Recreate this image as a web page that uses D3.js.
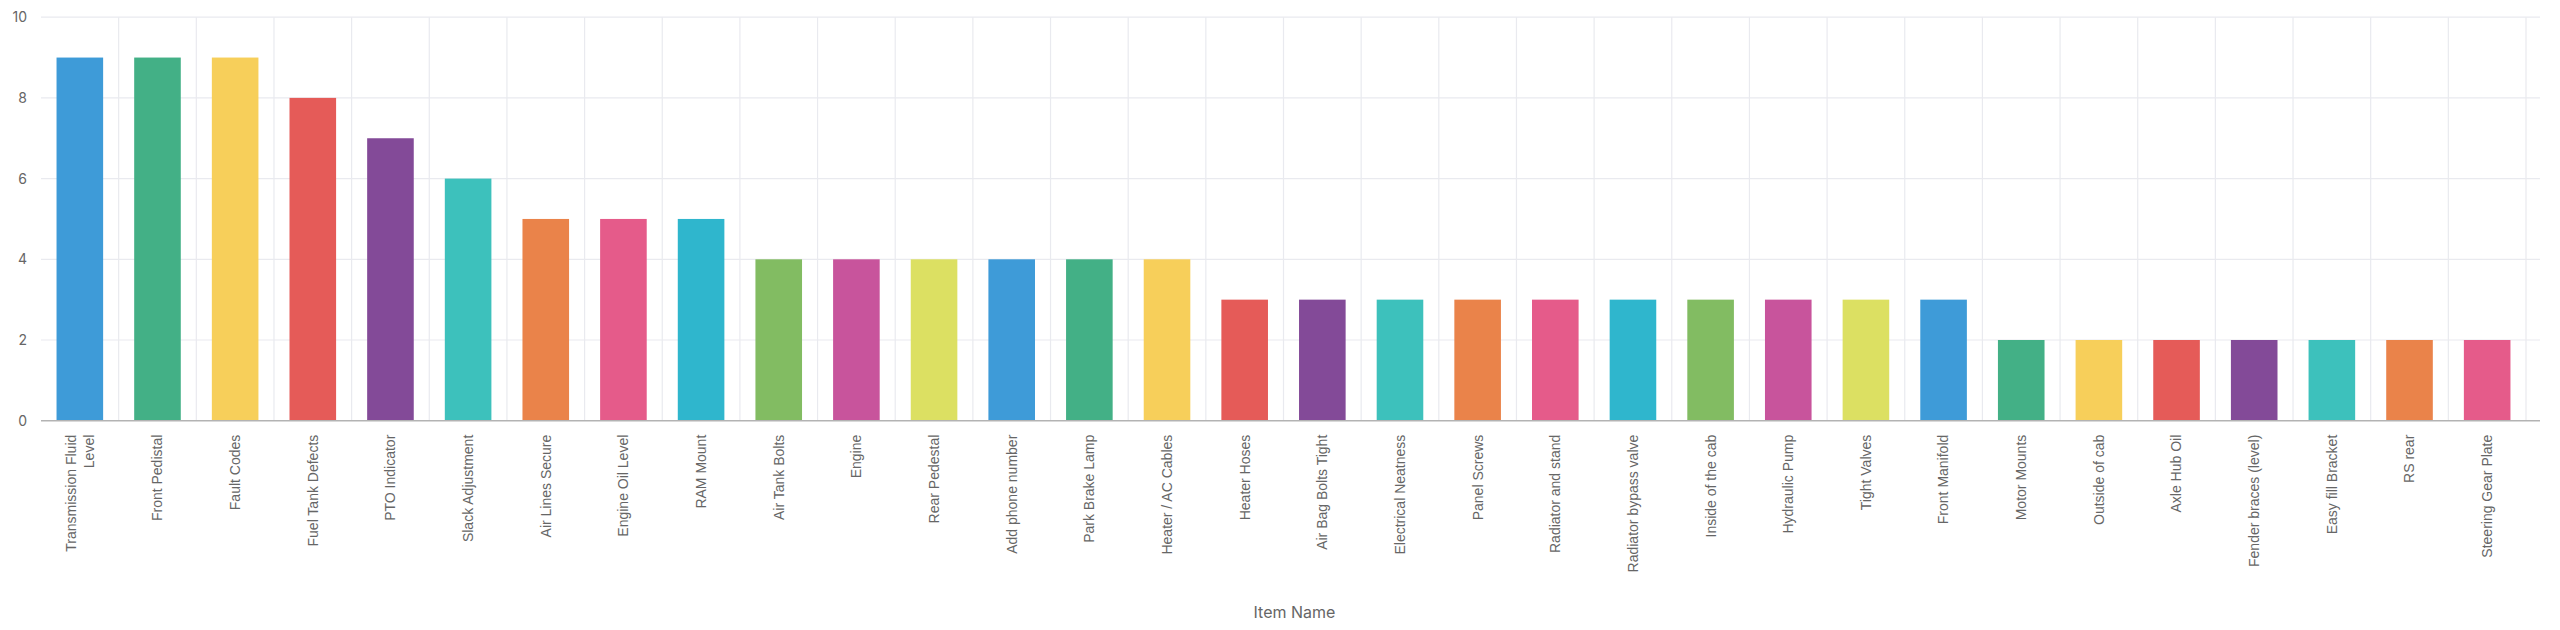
<!DOCTYPE html>
<html>
<head>
<meta charset="utf-8">
<script src="https://cdn.jsdelivr.net/npm/d3@7/dist/d3.min.js"></script>
<style>
  html, body { margin: 0; padding: 0; background: #fff; }
  svg { display: block; }
</style>
</head>
<body>
<svg id="chart" width="2560" height="630"></svg>
<script>
const categories = [
  "Transmission Fluid Level", "Front Pedistal", "Fault Codes", "Fuel Tank Defects",
  "PTO Indicator", "Slack Adjustment", "Air Lines Secure", "Engine Oil Level",
  "RAM Mount", "Air Tank Bolts", "Engine", "Rear Pedestal", "Add phone number",
  "Park Brake Lamp", "Heater / AC Cables", "Heater Hoses", "Air Bag Bolts Tight",
  "Electrical Neatness", "Panel Screws", "Radiator and stand", "Radiator bypass valve",
  "Inside of the cab", "Hydraulic Pump", "Tight Valves", "Front Manifold",
  "Motor Mounts", "Outside of cab", "Axle Hub Oil", "Fender braces (level)",
  "Easy fill Bracket", "RS rear", "Steering Gear Plate"
];
const values = [9, 9, 9, 8, 7, 6, 5, 5, 5, 4, 4, 4, 4, 4, 4, 3, 3, 3, 3, 3, 3, 3, 3, 3, 3, 2, 2, 2, 2, 2, 2, 2];
const yTicks = [0, 2, 4, 6, 8, 10];
const palette = ["#3e9bd8", "#43b086", "#f7cf5a", "#e55b58", "#834a98", "#3dc1bc",
                 "#ea834a", "#e55b8a", "#2fb6cd", "#82bc62", "#c8549c", "#dce062"];
const xTitle = "Item Name";

(function () {
const svg = d3.select("#chart");
const pLeft = 41, bandRight = 2526, gridRight = 2540, pTop = 17.2, pBottom = 420.7;

const x = d3.scaleBand().domain(categories).range([pLeft, bandRight]).paddingInner(0.4).paddingOuter(0.2);
const y = d3.scaleLinear().domain([0, 10]).range([pBottom, pTop]);
const color = d3.scaleOrdinal().domain(categories).range(palette);

// horizontal gridlines
svg.append("g").selectAll("line").data(yTicks.filter(d => d > 0)).join("line")
  .attr("x1", pLeft).attr("x2", gridRight)
  .attr("y1", d => y(d)).attr("y2", d => y(d))
  .attr("stroke", "#e9eaef").attr("stroke-width", 1.2);

// vertical gridlines at band boundaries
const step = x.step();
const bounds = categories.map((c, i) => pLeft + (i + 1) * step);
svg.append("g").selectAll("line").data(bounds).join("line")
  .attr("x1", d => d).attr("x2", d => d)
  .attr("y1", pTop).attr("y2", pBottom)
  .attr("stroke", "#e9eaef").attr("stroke-width", 1.2);

// bars
svg.append("g").selectAll("rect").data(categories).join("rect")
  .attr("x", d => x(d))
  .attr("width", x.bandwidth())
  .attr("y", (d, i) => y(values[i]))
  .attr("height", (d, i) => y(0) - y(values[i]))
  .attr("fill", d => color(d));

// baseline
svg.append("line")
  .attr("x1", pLeft).attr("x2", gridRight)
  .attr("y1", pBottom).attr("y2", pBottom)
  .attr("stroke", "#b3b3b3").attr("stroke-width", 1.5);

// y axis
const yAxis = d3.axisLeft(y).tickValues(yTicks).tickSize(0).tickPadding(14);
const yg = svg.append("g").attr("transform", `translate(${pLeft},0)`).call(yAxis);
yg.select(".domain").remove();
yg.selectAll("text")
  .attr("font-family", "Inter, 'Open Sans', sans-serif")
  .attr("font-size", 14).attr("fill", "#666");

// x labels (rotated)
const xAxis = d3.axisBottom(x).tickSize(0).tickPadding(0);
const xg = svg.append("g").attr("transform", `translate(0,${pBottom})`).call(xAxis);
xg.select(".domain").remove();
xg.selectAll(".tick text").each(function(d) {
  const t = d3.select(this);
  t.text(null)
    .attr("transform", "rotate(-90)")
    .attr("text-anchor", "end")
    .attr("font-family", "'Liberation Sans', Arial, sans-serif")
    .attr("font-size", 14)
    .attr("fill", "#666")
    .attr("y", 0).attr("dy", null);
  const lines = d === "Transmission Fluid Level" ? ["Transmission Fluid", "Level"] : [d];
  const lh = 18;
  lines.forEach((ln, i) => {
    t.append("tspan")
      .attr("x", -14)
      .attr("y", (i - (lines.length - 1) / 2) * lh)
      .attr("dy", "0.35em")
      .text(ln);
  });
});

// x title
svg.append("text")
  .attr("x", (pLeft + gridRight) / 2 + 4).attr("y", 618)
  .attr("text-anchor", "middle")
  .attr("font-family", "Inter, Roboto, sans-serif")
  .attr("font-size", 16).attr("fill", "#666")
  .text(xTitle);
})();
</script>
</body>
</html>
